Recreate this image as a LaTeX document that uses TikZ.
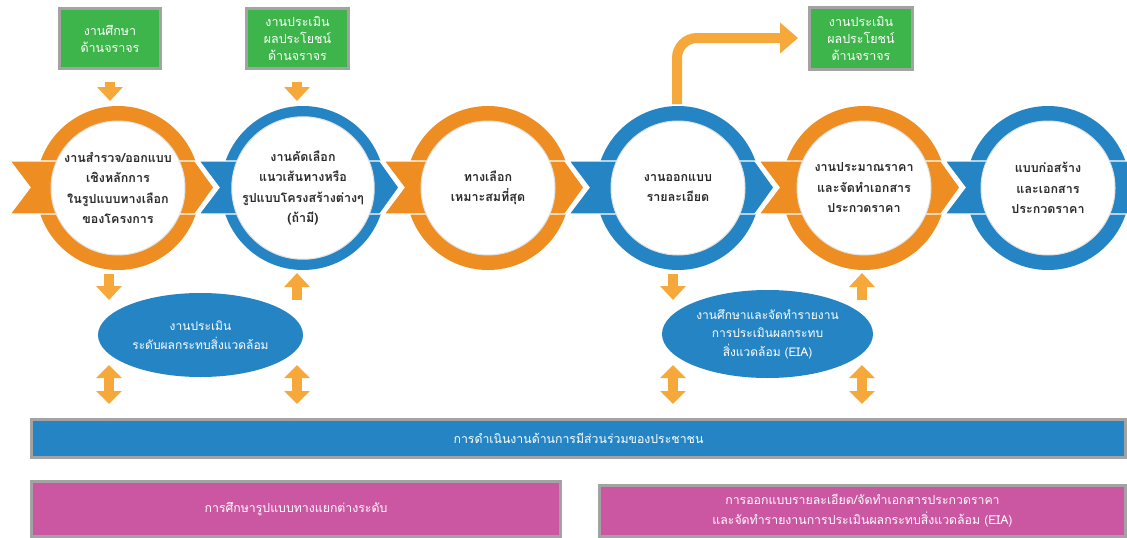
\documentclass[tikz,border=0pt]{standalone}
\usepackage{fontspec}
\newfontfamily\thaifont[Script=Thai]{Loma}
\usetikzlibrary{arrows.meta,shapes.geometric,calc}
\definecolor{corange}{HTML}{EE8E22}
\definecolor{cblue}{HTML}{2585C4}
\definecolor{cgreen}{HTML}{3DB54A}
\definecolor{cpink}{HTML}{CB56A2}
\definecolor{carrow}{HTML}{F6A93A}
\definecolor{ctext}{HTML}{2A2A2A}
\definecolor{cframe}{HTML}{A3A3A3}
\newcommand\myband[3]{\path[fill=#1,draw=white,line width=1.3pt] (#2,161) -- (#3,161) -- ({#3+19},187.5) -- (#3,214) -- (#2,214) -- ({#2+20},187.5) -- cycle;}
\begin{document}
\begin{tikzpicture}[x=1pt,y=-1pt,
  ring/.style={circle,minimum size=164pt,inner sep=0pt},
  inner/.style={circle,fill=white,draw=black!12,line width=1pt,minimum size=134pt,inner sep=0pt,
    align=center,text=ctext,font=\thaifont\bfseries\fontsize{12.5}{20.5}\selectfont},
  greenbox/.style={rectangle,fill=cgreen,draw=cframe,line width=3pt,inner sep=0pt,align=center,
    text=white,font=\thaifont\fontsize{12.5}{17}\selectfont},
  ellbox/.style={ellipse,fill=cblue,inner sep=0pt,align=center,text=white,
    font=\thaifont\fontsize{12}{18.5}\selectfont},
  barbox/.style={rectangle,draw=cframe,line width=3pt,inner sep=0pt,align=center,text=white,
    font=\thaifont\fontsize{12.3}{20}\selectfont},
  blockarrow/.style={draw=carrow,line width=10pt,-{Triangle[width=25pt,length=14pt]}},
  dblarrow/.style={draw=carrow,line width=10pt,{Triangle[width=25pt,length=13pt]}-{Triangle[width=25pt,length=13pt]}}
]
\useasboundingbox (0,0) rectangle (1127,538);
\fill[white] (0,0) rectangle (1127,538);

% rings
\node[ring,fill=corange] (c1) at (118,188) {};
\node[ring,fill=cblue]   (c2) at (303,188) {};
\node[ring,fill=corange] (c3) at (488,188) {};
\node[ring,fill=cblue]   (c4) at (678,188) {};
\node[ring,fill=corange] (c5) at (864,188) {};
\node[ring,fill=cblue]   (c6) at (1048,188) {};

% ribbon
\myband{corange}{10}{195}
\myband{cblue}{199}{380}
\myband{corange}{384}{565}
\myband{cblue}{569}{755}
\myband{corange}{759}{941}
\path[fill=cblue,draw=white,line width=1.3pt] (945,161) -- (1128,161) -- (1128,214) -- (945,214) -- (965,187.5) -- cycle;

% inner circles with text
\node[inner] (t1) at (c1) {งานสำรวจ/ออกแบบ\\เชิงหลักการ\\ในรูปแบบทางเลือก\\ของโครงการ};
\node[inner] (t2) at (c2) {งานคัดเลือก\\แนวเส้นทางหรือ\\รูปแบบโครงสร้างต่างๆ\\(ถ้ามี)};
\node[inner] (t3) at (c3) {ทางเลือก\\เหมาะสมที่สุด};
\node[inner] (t4) at (c4) {งานออกแบบ\\รายละเอียด};
\node[inner] (t5) at (c5) {งานประมาณราคา\\และจัดทำเอกสาร\\ประกวดราคา};
\node[inner] (t6) at (c6) {แบบก่อสร้าง\\และเอกสาร\\ประกวดราคา};

% green boxes
\node[greenbox,minimum width=101pt,minimum height=60pt] (g1) at (110,38.5) {งานศึกษา\\ด้านจราจร};
\node[greenbox,minimum width=102pt,minimum height=60pt] (g2) at (297.5,38.5) {งานประเมิน\\ผลประโยชน์\\ด้านจราจร};
\node[greenbox,minimum width=103pt,minimum height=62pt] (g3) at (861,38.5) {งานประเมิน\\ผลประโยชน์\\ด้านจราจร};

% ellipses
\node[ellbox,minimum width=205pt,minimum height=84pt] (e1) at (200.5,335) {งานประเมิน\\ระดับผลกระทบสิ่งแวดล้อม};
\node[ellbox,minimum width=211pt,minimum height=88pt] (e2) at (767.5,334) {งานศึกษาและจัดทำรายงาน\\การประเมินผลกระทบ\\สิ่งแวดล้อม (EIA)};

% bars
\node[barbox,fill=cblue,minimum width=1094pt,minimum height=38pt] (b1) at (578.5,438.5) {การดำเนินงานด้านการมีส่วนร่วมของประชาชน};
\node[barbox,fill=cpink,minimum width=529pt,minimum height=55pt] (p1) at (296,509) {การศึกษารูปแบบทางแยกต่างระดับ};
\node[barbox,fill=cpink,minimum width=526pt,minimum height=51pt] (p2) at (862.5,511) {การออกแบบรายละเอียด/จัดทำเอกสารประกวดราคา\\และจัดทำรายงานการประเมินผลกระทบสิ่งแวดล้อม (EIA)};

% arrow end points
\coordinate (a1s) at (110,82);  \coordinate (a1e) at (110,101);
\coordinate (a2s) at (297,82);  \coordinate (a2e) at (297,101);
\coordinate (d1s) at (109,274); \coordinate (d1e) at (109,300);
\coordinate (u1s) at (297,300); \coordinate (u1e) at (297,273);
\coordinate (d2s) at (673,274); \coordinate (d2e) at (673,300);
\coordinate (u2s) at (862,300); \coordinate (u2e) at (862,273);
\coordinate (x1s) at (109,365); \coordinate (x1e) at (109,404);
\coordinate (x2s) at (297,365); \coordinate (x2e) at (297,404);
\coordinate (x3s) at (673,365); \coordinate (x3e) at (673,404);
\coordinate (x4s) at (862,365); \coordinate (x4e) at (862,404);
\coordinate (bs) at (677,104);  \coordinate (be) at (798,38);

\draw[blockarrow] (a1s) -- (a1e);
\draw[blockarrow] (a2s) -- (a2e);
\draw[blockarrow] (d1s) -- (d1e);
\draw[blockarrow] (u1s) -- (u1e);
\draw[blockarrow] (d2s) -- (d2e);
\draw[blockarrow] (u2s) -- (u2e);
\draw[dblarrow] (x1s) -- (x1e);
\draw[dblarrow] (x2s) -- (x2e);
\draw[dblarrow] (x3s) -- (x3e);
\draw[dblarrow] (x4s) -- (x4e);
\draw[draw=carrow,line width=10pt,rounded corners=20pt,-{Triangle[width=30pt,length=18pt]}] (bs) |- (be);
\end{tikzpicture}
\end{document}
